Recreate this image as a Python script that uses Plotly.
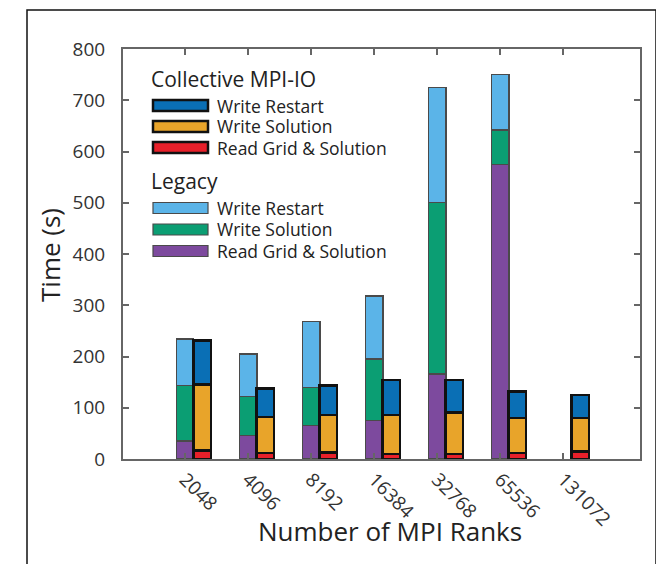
import plotly.graph_objects as go

ranks = ["2048", "4096", "8192", "16384", "32768", "65536", "131072"]

legacy_read = [35, 46, 65, 75, 166, 574, None]
legacy_write_solution = [108, 76, 75, 120, 335, 68, None]
legacy_write_restart = [91, 83, 129, 123, 224, 109, None]

mpi_read = [17, 12, 13, 10, 10, 12, 15]
mpi_write_solution = [128, 70, 73, 76, 81, 68, 65]
mpi_write_restart = [86, 56, 57, 68, 63, 52, 45]

y_ticks = [0, 100, 200, 300, 400, 500, 600, 700, 800]

C_MPI_RESTART = "#0a6fb5"
C_MPI_SOL = "#e8a42a"
C_MPI_READ = "#e8202a"
C_LEG_RESTART = "#5bb4e8"
C_LEG_SOL = "#0b9e73"
C_LEG_READ = "#7d4a9e"

FONT = "Open Sans"
TXT = "#333333"

pos = list(range(len(ranks)))
MPI_SHIFT = 0.27
BAR_W = 0.28
mpi_pos = [p + MPI_SHIFT for p in pos]

fig = go.Figure()

def add(xs, ys, color, lw, lc):
    fig.add_trace(go.Bar(
        x=xs, y=ys, width=BAR_W,
        marker=dict(color=color, line=dict(color=lc, width=lw)),
        showlegend=False, hoverinfo="y",
    ))

add(pos, legacy_read, C_LEG_READ, 1.2, "#4a4a4a")
add(pos, legacy_write_solution, C_LEG_SOL, 1.2, "#4a4a4a")
add(pos, legacy_write_restart, C_LEG_RESTART, 1.2, "#4a4a4a")
add(mpi_pos, mpi_read, C_MPI_READ, 2.5, "#111111")
add(mpi_pos, mpi_write_solution, C_MPI_SOL, 2.5, "#111111")
add(mpi_pos, mpi_write_restart, C_MPI_RESTART, 2.5, "#111111")

# page body has an 8px margin; window coords are converted to figure coords
OFF = 8
W, H = 664 - OFF, 564 - OFF
PL, PR, PT, PB = 123 - OFF, 640 - OFF, 49 - OFF, 459 - OFF
L, R, T, B = PL, W - PR, PT, H - PB
PW, PH = PR - PL, PB - PT

def px(xw):
    return (xw - OFF - PL) / PW

def py(yw):
    return (PB - (yw - OFF)) / PH

shapes = []
annotations = []

# outer frame
shapes.append(dict(type="rect", xref="paper", yref="paper",
                   x0=px(27), x1=px(656), y0=py(700), y1=py(10),
                   line=dict(color="#111111", width=1.5), fillcolor="rgba(0,0,0,0)", layer="below"))

# custom legend
def header(text, ycen):
    annotations.append(dict(text=text, xref="paper", yref="paper", x=px(149), y=py(ycen),
                            xanchor="left", yanchor="middle", showarrow=False,
                            font=dict(family=FONT, size=21, color="#222222")))

def entry(text, ycen, color, lc, lw):
    shapes.append(dict(type="rect", xref="paper", yref="paper",
                       x0=px(153), x1=px(208), y0=py(ycen + 5.5), y1=py(ycen - 5.5),
                       fillcolor=color, line=dict(color=lc, width=lw)))
    annotations.append(dict(text=text, xref="paper", yref="paper", x=px(215), y=py(ycen),
                            xanchor="left", yanchor="middle", showarrow=False,
                            font=dict(family=FONT, size=17.5, color="#222222")))

header("Collective MPI-IO", 79)
entry("Write Restart", 105.5, C_MPI_RESTART, "#111111", 2.5)
entry("Write Solution", 126.5, C_MPI_SOL, "#111111", 2.5)
entry("Read Grid &amp; Solution", 147.5, C_MPI_READ, "#111111", 2.5)
header("Legacy", 181)
entry("Write Restart", 208, C_LEG_RESTART, "#4a4a4a", 1.2)
entry("Write Solution", 229.5, C_LEG_SOL, "#4a4a4a", 1.2)
entry("Read Grid &amp; Solution", 251, C_LEG_READ, "#4a4a4a", 1.2)

# axis titles
annotations.append(dict(text="Number of MPI Ranks", xref="paper", yref="paper",
                        x=px(390), y=py(531), xanchor="center", yanchor="middle",
                        showarrow=False, font=dict(family=FONT, size=26, color="#222222")))
annotations.append(dict(text="Time (s)", xref="paper", yref="paper",
                        x=px(50), y=py(255), xanchor="center", yanchor="middle", textangle=-90,
                        showarrow=False, font=dict(family=FONT, size=26, color="#222222")))

fig.update_layout(
    width=W, height=H,
    margin=dict(l=L, r=R, t=T, b=B, pad=0),
    barmode="stack",
    paper_bgcolor="white", plot_bgcolor="white",
    showlegend=False,
    shapes=shapes, annotations=annotations,
    font=dict(family=FONT, color=TXT),
)

fig.update_xaxes(
    range=[-0.985, 7.22], tickvals=pos, ticktext=ranks, tickangle=45,
    ticks="inside", ticklen=6, tickwidth=1.5, tickcolor="#666666",
    showline=True, linecolor="#666666", linewidth=2, mirror="ticks",
    showgrid=False, zeroline=False,
    tickfont=dict(family=FONT, size=19, color=TXT),
)
fig.update_yaxes(
    range=[0, 800], tickvals=y_ticks,
    ticks="inside", ticklen=6, tickwidth=1.5, tickcolor="#666666",
    showline=True, linecolor="#666666", linewidth=2, mirror="ticks",
    showgrid=False, zeroline=False, ticklabelstandoff=12,
    tickfont=dict(family=FONT, size=19, color=TXT),
)

fig.write_html("out.html")
